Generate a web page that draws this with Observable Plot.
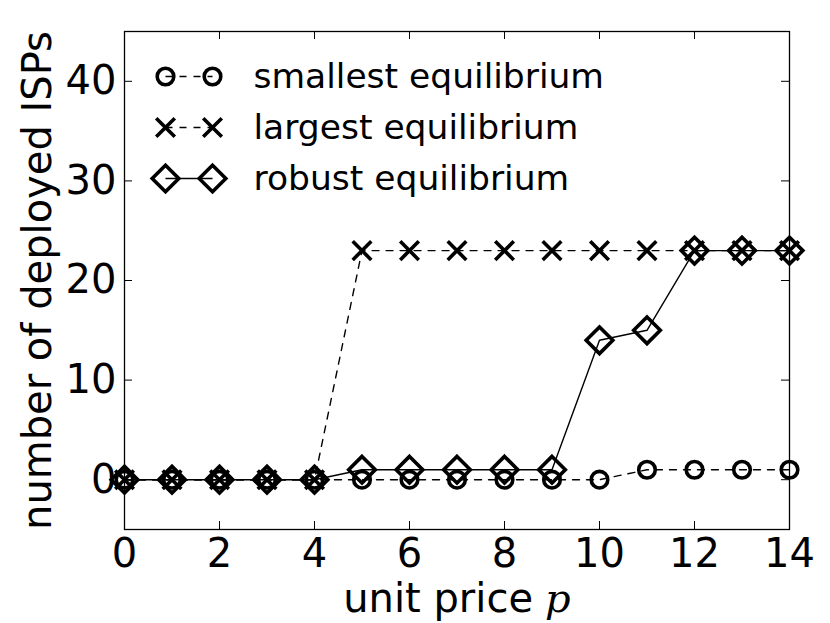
<!DOCTYPE html>
<html>
<head>
<meta charset="utf-8">
<script src="https://cdn.jsdelivr.net/npm/d3@7"></script>
<script src="https://cdn.jsdelivr.net/npm/@observablehq/plot@0.6"></script>
<style>
  html, body { margin: 0; padding: 0; background: #fff; }
  #chart svg { display: block; }
</style>
</head>
<body>
<div id="chart"></div>
<script>
// ---- data ----
const prices = [0, 1, 2, 3, 4, 5, 6, 7, 8, 9, 10, 11, 12, 13, 14];
const smallest = [0, 0, 0, 0, 0, 0, 0, 0, 0, 0, 0, 1, 1, 1, 1];
const largest  = [0, 0, 0, 0, 0, 23, 23, 23, 23, 23, 23, 23, 23, 23, 23];
const robust   = [0, 0, 0, 0, 0, 1, 1, 1, 1, 1, 14, 15, 23, 23, 23];
const xTicks = [0, 2, 4, 6, 8, 10, 12, 14];
const yTicks = [0, 10, 20, 30, 40];
const seriesNames = ["smallest equilibrium", "largest equilibrium", "robust equilibrium"];
const xLabel = "unit price";
const xLabelVar = "p";
const yLabel = "number of deployed ISPs";

// ---- layout / style ----
const W = 830, H = 623;
const mL = 124, mR = 41, mT = 31, mB = 94;
const innerW = W - mL - mR, innerH = H - mT - mB;
const tickLen = 8;
const FONT = "DejaVu Sans";

const seriesValues = [smallest, largest, robust];
const seriesStyle = [
  {symbol: "circle", r: 8.3, dash: "7,7"},
  {symbol: "times", r: 8.5, dash: "7,7"},
  {symbol: "diamond2", r: 12, dash: null}
];
const markerStroke = 3.6;

const rows = [];
seriesValues.forEach((vals, s) => {
  prices.forEach((p, i) => rows.push({series: s, x: p, y: vals[i]}));
});

const marks = [];

// data lines + markers
seriesValues.forEach((vals, s) => {
  const data = rows.filter(d => d.series === s);
  const st = seriesStyle[s];
  marks.push(Plot.line(data, {x: "x", y: "y", stroke: "black", strokeWidth: 1.4,
    strokeDasharray: st.dash || undefined}));
});
seriesValues.forEach((vals, s) => {
  const data = rows.filter(d => d.series === s);
  const st = seriesStyle[s];
  marks.push(Plot.dot(data, {x: "x", y: "y", symbol: st.symbol, r: st.r,
    stroke: "black", fill: "none", strokeWidth: markerStroke}));
});

// inward ticks on all four sides
marks.push(Plot.tickX(xTicks, {x: d => d, insetTop: innerH - tickLen, stroke: "black", strokeWidth: 1}));
marks.push(Plot.tickX(xTicks, {x: d => d, insetBottom: innerH - tickLen, stroke: "black", strokeWidth: 1}));
marks.push(Plot.tickY(yTicks, {y: d => d, insetRight: innerW - tickLen, stroke: "black", strokeWidth: 1}));
marks.push(Plot.tickY(yTicks, {y: d => d, insetLeft: innerW - tickLen, stroke: "black", strokeWidth: 1}));

// frame
marks.push(Plot.frame({stroke: "black", strokeWidth: 1.3}));

// axis labels
marks.push(Plot.axisX({ticks: xTicks, tickSize: 0, tickPadding: 9, fontSize: 40, label: null, tickFormat: d => String(d)}));
marks.push(Plot.axisY({ticks: yTicks, tickSize: 0, tickPadding: 8, fontSize: 40, label: null, tickFormat: d => String(d)}));

// axis titles
marks.push(Plot.text([yLabel], {frameAnchor: "left", text: d => d, rotate: -90, dx: -86, fontSize: 40, fill: "black", textAnchor: "middle"}));
marks.push(Plot.text([xLabel], {frameAnchor: "bottom", text: d => d, dx: 76, dy: 82, fontSize: 40, fill: "black", textAnchor: "end"}));
marks.push(Plot.text([xLabelVar], {frameAnchor: "bottom", text: d => d, dx: 88, dy: 82, fontSize: 40, fill: "black", textAnchor: "start", fontStyle: "italic", fontFamily: "DejaVu Serif"}));

// legend
const segment = {draw(ctx) { ctx.moveTo(-23.5, 0); ctx.lineTo(23.5, 0); }};
seriesNames.forEach((name, s) => {
  const st = seriesStyle[s];
  const dy = 45 + s * 51;
  marks.push(Plot.dot([name], {frameAnchor: "top-left", dx: 64.5, dy, symbol: segment, r: 5,
    stroke: "black", fill: "none", strokeWidth: 1.4, strokeDasharray: st.dash || undefined}));
  marks.push(Plot.dot([name], {frameAnchor: "top-left", dx: 41, dy, symbol: st.symbol, r: st.r,
    stroke: "black", fill: "none", strokeWidth: markerStroke}));
  marks.push(Plot.dot([name], {frameAnchor: "top-left", dx: 88, dy, symbol: st.symbol, r: st.r,
    stroke: "black", fill: "none", strokeWidth: markerStroke}));
  marks.push(Plot.text([name], {frameAnchor: "top-left", dx: 129, dy, text: d => d, fontSize: 34.5,
    fill: "black", textAnchor: "start", lineAnchor: "middle"}));
});

const chart = Plot.plot({
  width: W, height: H,
  marginLeft: mL, marginRight: mR, marginTop: mT, marginBottom: mB,
  style: {fontFamily: FONT, color: "black", background: "white", overflow: "visible"},
  x: {domain: [0, 14]},
  y: {domain: [-5, 45]},
  marks
});
document.getElementById("chart").appendChild(chart);
</script>
</body>
</html>
